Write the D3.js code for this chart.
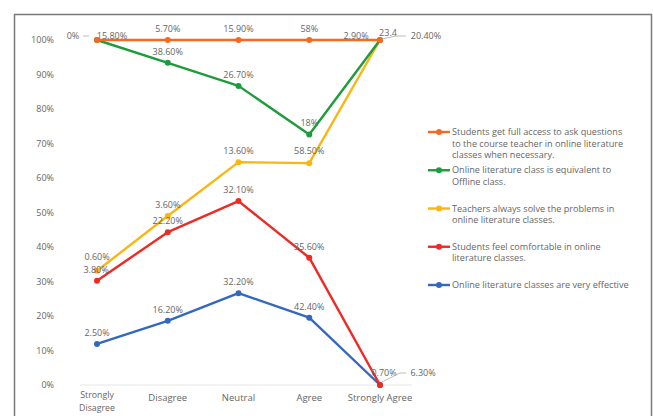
<!DOCTYPE html>
<html>
<head>
<meta charset="utf-8">
<script src="https://cdn.jsdelivr.net/npm/d3@7"></script>
<style>
  body { margin: 0; background: #fff; }
  text { font-family: "Open Sans", sans-serif; fill: #666; }
</style>
</head>
<body>
<script>
// categories on the x axis
var categories = ["Strongly Disagree", "Disagree", "Neutral", "Agree", "Strongly Agree"];
var yTicks = [0, 10, 20, 30, 40, 50, 60, 70, 80, 90, 100];

// stacked series, bottom to top (% share)
var seriesNames = [
  "Online literature classes are very effective",
  "Students feel comfortable in online literature classes.",
  "Teachers always solve the problems in online literature classes.",
  "Online literature class is equivalent to Offline class.",
  "Students get full access to ask questions to the course teacher in online literature classes when necessary."
];
var effective   = [11.9, 18.6, 26.6, 19.5, 0];
var comfortable = [18.3, 25.7, 26.7, 17.4, 0];
var solve       = [2.9, 4.7, 11.3, 27.4, 100];
var equivalent  = [66.9, 44.4, 22.1, 8.3, 0];
var access      = [0, 6.6, 13.3, 27.4, 0];

// data labels as printed on the chart
var effectiveLabels   = ["2.50%", "16.20%", "32.20%", "42.40%", "6.30%"];
var comfortableLabels = ["3.80%", "22.20%", "32.10%", "35.60%", "0.70%"];
var solveLabels       = ["0.60%", "3.60%", "13.60%", "58.50%", "23.4"];
var equivalentLabels  = ["15.80%", "38.60%", "26.70%", "18%", "20.40%"];
var accessLabels      = ["0%", "5.70%", "15.90%", "58%", "2.90%"];

var colours = ["#3468c0", "#ee2a24", "#fbb614", "#1e9c3c", "#f36a23"];

var W = 653, H = 416;
var svg = d3.select("body").append("svg").attr("width", W).attr("height", H);

// frame
svg.append("path")
  .attr("d", "M14.5," + H + "V14.5H651.5V" + H)
  .attr("fill", "none").attr("stroke", "#7a7a7a").attr("stroke-width", 1.5);

var x = d3.scalePoint().domain(categories).range([97, 380]);
var y = d3.scaleLinear().domain([0, 100]).range([385, 40]);

// y tick labels
svg.append("g").selectAll("text").data(yTicks).enter().append("text")
  .attr("x", 54).attr("y", function(d){ return y(d) + 3; })
  .attr("text-anchor", "end").attr("font-size", 9)
  .text(function(d){ return d + "%"; });

// baseline
svg.append("line").attr("x1", 80).attr("x2", 412).attr("y1", y(0)).attr("y2", y(0))
  .attr("stroke", "#e6e6e6").attr("stroke-width", 1);

// x labels (first one wraps onto two lines)
svg.append("g").selectAll("text").data(categories).enter().append("text")
  .attr("x", function(d){ return x(d); }).attr("y", 401)
  .attr("text-anchor", "middle").attr("font-size", 9.5)
  .text(function(d){ return d == "Strongly Disagree" ? "Strongly" : d; })
  .filter(function(d){ return d == "Strongly Disagree"; })
  .attr("font-size", 8.8).attr("y", 398);
svg.append("text").attr("x", x("Strongly Disagree")).attr("y", 410.5)
  .attr("text-anchor", "middle").attr("font-size", 8.8).text("Disagree");

// build stacked table
var keys = ["effective", "comfortable", "solve", "equivalent", "access"];
var table = categories.map(function(c, i){
  return {cat: c, effective: effective[i], comfortable: comfortable[i], solve: solve[i],
    equivalent: equivalent[i], access: access[i]};
});
var stacked = d3.stack().keys(keys)(table);
var labels = [effectiveLabels, comfortableLabels, solveLabels, equivalentLabels, accessLabels];

var line = d3.line()
  .x(function(d){ return x(d.data.cat); })
  .y(function(d){ return y(d[1]); });

stacked.forEach(function(s, k){
  svg.append("path").attr("d", line(s))
    .attr("fill", "none").attr("stroke", colours[k]).attr("stroke-width", 2.4)
    .attr("stroke-linejoin", "round");
  svg.append("g").selectAll("circle").data(s).enter().append("circle")
    .attr("cx", function(d){ return x(d.data.cat); })
    .attr("cy", function(d){ return y(d[1]); })
    .attr("r", 3).attr("fill", colours[k]);
});

// label offsets (dx, dy) for crowded points, default is centred above
var offsets = {
  "0-4": [43, -12], "1-4": [4, -12], "2-0": [0, -14], "1-0": [-1, -11],
  "4-0": [-24, -4], "3-0": [15, -4], "4-4": [-24, -4], "2-4": [8, -7], "3-4": [46, -4],
  "3-3": [0, -12], "2-3": [0, -12]
};
stacked.forEach(function(s, k){
  s.forEach(function(d, i){
    var off = offsets[k + "-" + i] || [0, -11];
    var px = x(d.data.cat), py = y(d[1]);
    // red and yellow sit close at the first category: stack their labels
    if (k == 1 && i == 0) py = y(stacked[2][0][1]) + 10;
    svg.append("text")
      .attr("x", px + off[0]).attr("y", py + off[1] + 3)
      .attr("text-anchor", "middle").attr("font-size", 9)
      .text(labels[k][i]);
  });
});

// leader lines for the outside labels
var sd = x("Strongly Disagree"), sa = x("Strongly Agree");
svg.append("path").attr("d", "M" + (sd - 14) + "," + (y(100) - 4) + "L" + (sd - 8) + "," + (y(100) - 4))
  .attr("stroke", "#bbb").attr("fill", "none");
svg.append("path").attr("d", "M" + (sa + 2) + "," + (y(100) - 1) + "L" + (sa + 16) + "," + (y(100) - 4) + "L" + (sa + 26) + "," + (y(100) - 4))
  .attr("stroke", "#bbb").attr("fill", "none");
svg.append("path").attr("d", "M" + (sa + 2) + "," + (y(0) - 3) + "L" + (sa + 20) + "," + (y(0) - 12) + "L" + (sa + 26) + "," + (y(0) - 12))
  .attr("stroke", "#bbb").attr("fill", "none");

// legend, top series first
var legendLines = [
  ["Students get full access to ask questions", "to the course teacher in online literature", "classes when necessary."],
  ["Online literature class is equivalent to", "Offline class."],
  ["Teachers always solve the problems in", "online literature classes."],
  ["Students feel comfortable in online", "literature classes."],
  ["Online literature classes are very effective"]
];
var legendY = d3.scalePoint().domain(d3.range(5)).range([132, 285]);
legendLines.forEach(function(lines, j){
  var k = 4 - j;
  var ly = legendY(j);
  var g = svg.append("g");
  g.append("line").attr("x1", 428).attr("x2", 450).attr("y1", ly).attr("y2", ly)
    .attr("stroke", colours[k]).attr("stroke-width", 2.4);
  g.append("circle").attr("cx", 439).attr("cy", ly).attr("r", 3).attr("fill", colours[k]);
  var t = g.append("text").attr("x", 452).attr("y", ly + 3).attr("font-size", 9.1);
  lines.forEach(function(l, m){
    t.append("tspan").attr("x", 452).attr("dy", m == 0 ? 0 : 11.5).text(l);
  });
});
</script>
</body>
</html>
